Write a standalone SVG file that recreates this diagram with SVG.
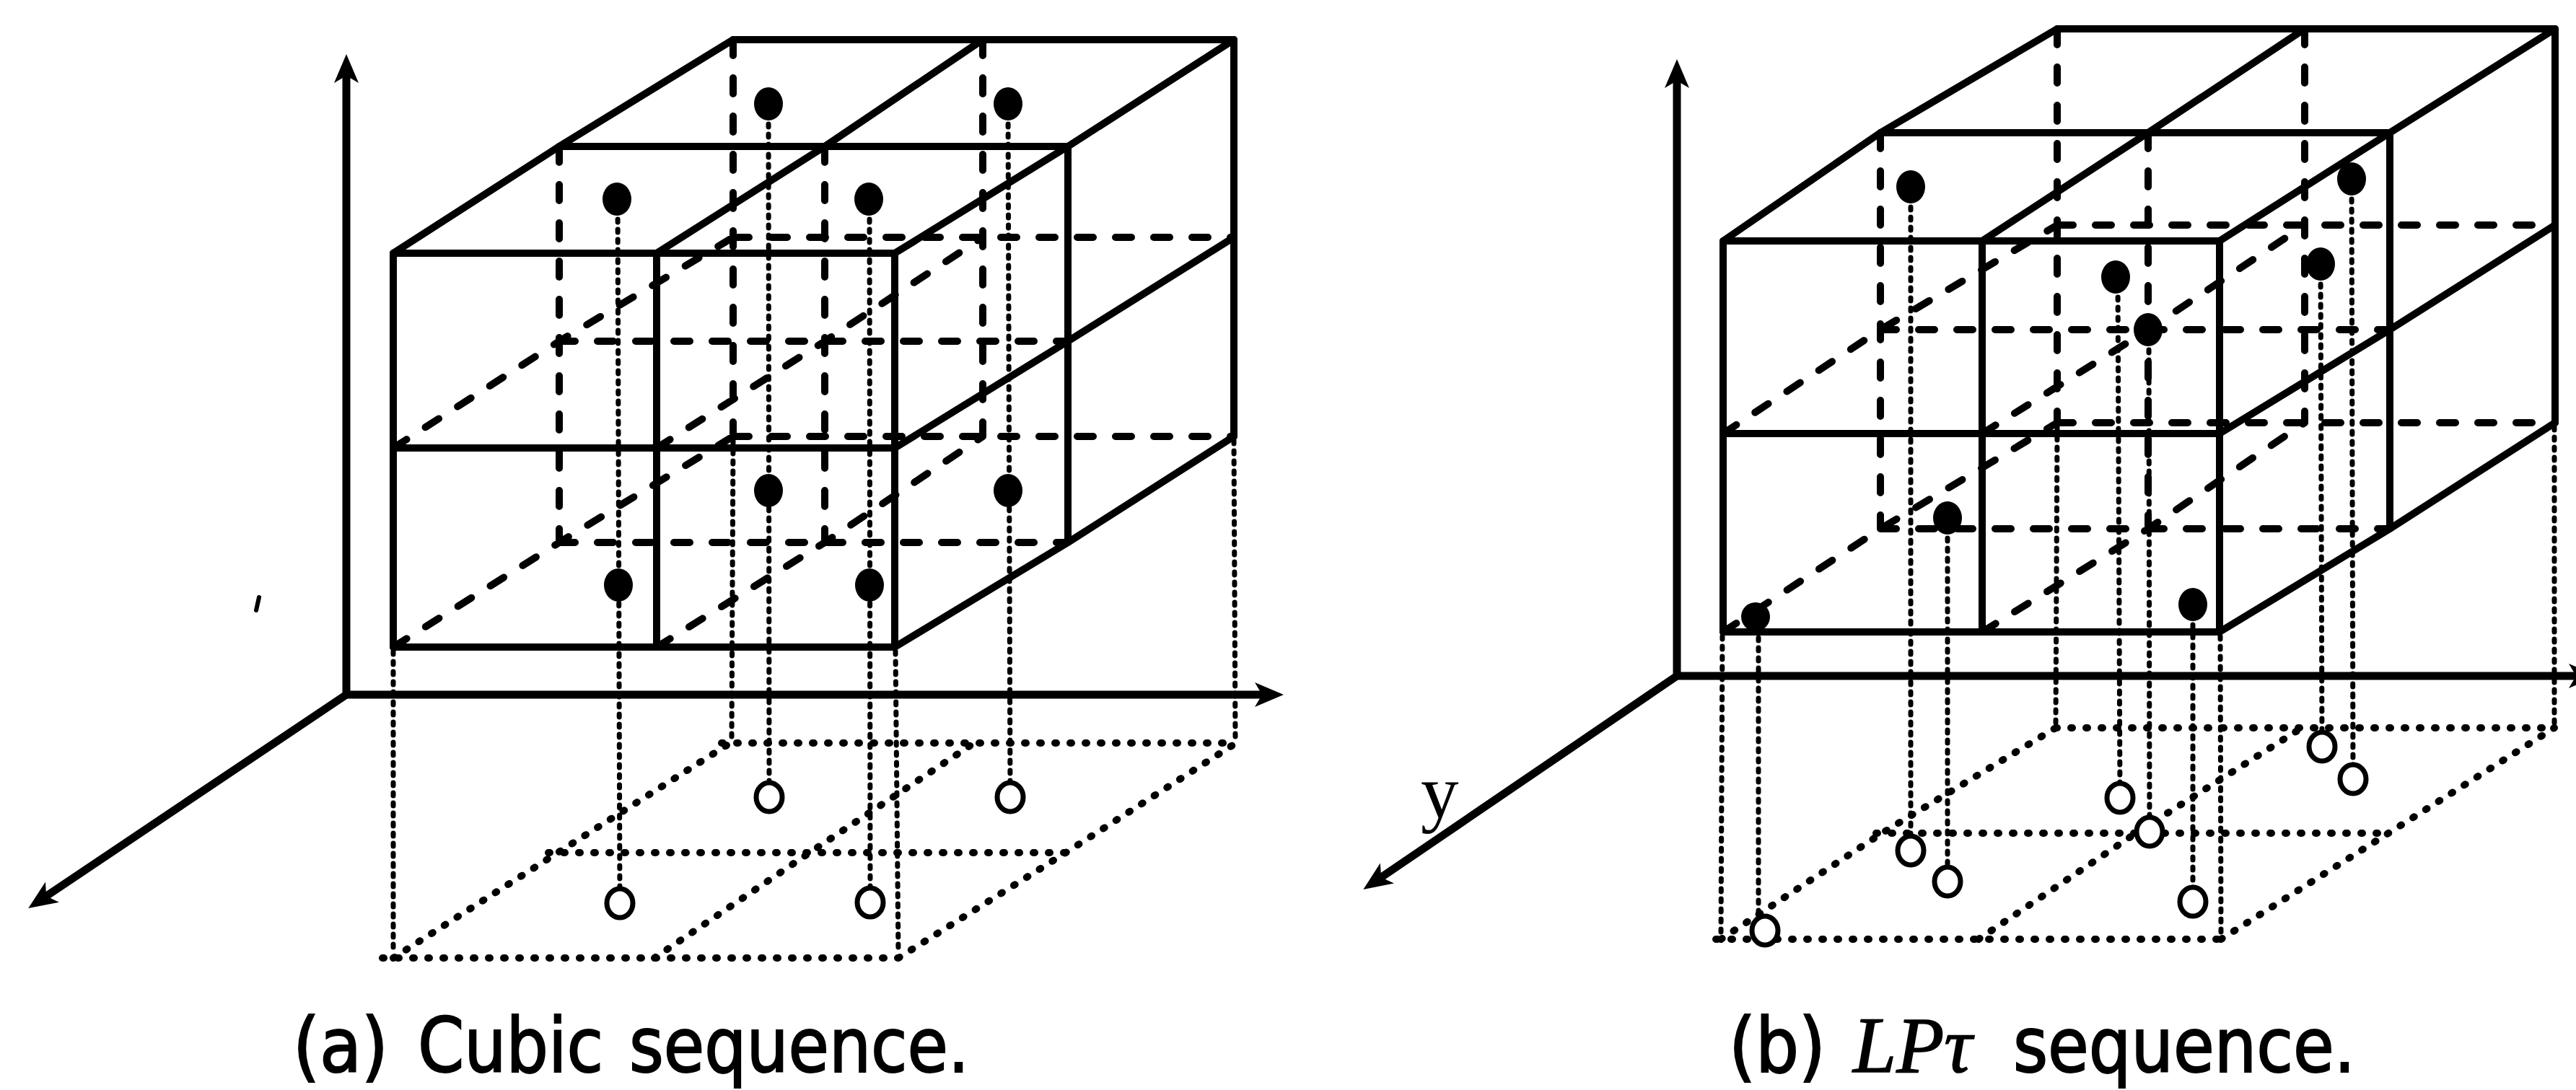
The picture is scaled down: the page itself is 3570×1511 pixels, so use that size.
<svg xmlns="http://www.w3.org/2000/svg" width="3570" height="1511" viewBox="0 0 3570 1511">
<style>
.edge{fill:none;stroke:#000;stroke-width:10;stroke-linecap:round;stroke-linejoin:round}
.hidden{fill:none;stroke:#000;stroke-width:10;stroke-linecap:round;stroke-dasharray:22 31}
.axis{fill:none;stroke:#000;stroke-width:11;marker-end:url(#arrow)}
.drop{fill:none;stroke:#000;stroke-width:7;stroke-linecap:round;stroke-dasharray:4 10}
.floor{fill:none;stroke:#000;stroke-width:10;stroke-linecap:round;stroke-dasharray:2 19}
.pt{fill:#000}
.proj{fill:#fff;stroke:#000;stroke-width:7}
.cap{font-family:"DejaVu Sans Condensed","DejaVu Sans",sans-serif;font-size:105px;fill:#000;stroke:#000;stroke-width:2}
.math{font-family:"Liberation Serif","Times New Roman",serif;font-style:italic;font-size:110px;fill:#000;stroke:#000;stroke-width:1.5}
.lbl{font-family:"Liberation Serif","Times New Roman",serif;font-size:105px;fill:#000}
</style>
<defs>
<marker id="arrow" viewBox="-20 -20 50 40" markerWidth="50" markerHeight="40" refX="0" refY="0" orient="auto" markerUnits="userSpaceOnUse">
<path d="M-15,-17 L25,0 L-15,17 L-5,0 Z" fill="#000"/>
</marker>
</defs>
<rect width="3570" height="1511" fill="#fff"/>

<g id="panel-a">
<g id="axes-a">
<path class="axis" d="M480,963 L480,100"/>
<path class="axis" d="M480,963 L1754,963"/>
<path class="axis" d="M480,963 L60,1245"/>
<path d="M359,828 L355,846" stroke="#000" stroke-width="6" stroke-linecap="round"/>
</g>
<g id="floor-a">
<path class="floor" d="M530,1328 L1245,1328 M760,1182 L1477,1182 M1000,1030 L1713,1030 M545,1328 L773,1182 L1012,1030 M907,1328 L1122,1182 L1350,1030 M1245,1328 L1477,1182 L1713,1030"/>
</g>
<g id="hidden-a">
<path class="hidden" d="M775,203 L775,752 M1143,203 L1143,752 M775,473 L1480,473 M775,752 L1480,752 M1016,55 L1016,605 M1362,55 L1362,605 M1016,329 L1710,329 M1016,605 L1710,605 M545,621 L775,473 L1016,329 M910,621 L1143,473 L1362,329 M545,897 L775,752 L1016,605 M910,897 L1143,752 L1362,605"/>
</g>
<g id="edges-a">
<path class="edge" d="M545,351 L1240,351 M545,621 L1240,621 M545,897 L1240,897 M545,351 L545,897 M910,351 L910,897 M1240,351 L1240,897"/>
<path class="edge" d="M775,203 L1480,203 M1016,55 L1710,55 M545,351 L775,203 L1016,55 M910,351 L1143,203 L1362,55 M1240,351 L1480,203 L1710,55"/>
<path class="edge" d="M1480,203 L1480,752 M1710,55 L1710,605 M1240,621 L1480,473 L1710,329 M1240,897 L1480,752 L1710,605"/>
</g>
<g id="connectors-a">
<path class="drop" d="M545,903 L545,1322 M1241,903 L1245,1322 M1016,611 L1014,1024 M1710,611 L1712,1024"/>
<path class="drop" d="M1065,144 L1066,1105 M1397,144 L1400,1105 M856,276 L859,1252 M1205,276 L1206,1251"/>
</g>
<g id="points-a">
<ellipse class="pt" cx="1065" cy="144" rx="20" ry="23"/>
<ellipse class="pt" cx="1397" cy="144" rx="20" ry="23"/>
<ellipse class="pt" cx="855" cy="276" rx="20" ry="23"/>
<ellipse class="pt" cx="1204" cy="276" rx="20" ry="23"/>
<ellipse class="pt" cx="1065" cy="680" rx="20" ry="23"/>
<ellipse class="pt" cx="1397" cy="680" rx="20" ry="23"/>
<ellipse class="pt" cx="857" cy="811" rx="20" ry="23"/>
<ellipse class="pt" cx="1205" cy="811" rx="20" ry="23"/>
<ellipse class="proj" cx="1066" cy="1105" rx="18" ry="20"/>
<ellipse class="proj" cx="1400" cy="1105" rx="18" ry="20"/>
<ellipse class="proj" cx="859" cy="1252" rx="18" ry="20"/>
<ellipse class="proj" cx="1206" cy="1251" rx="18" ry="20"/>
</g>
<g id="caption-a">
<text class="cap" x="406" y="1486" textLength="132" lengthAdjust="spacingAndGlyphs">(a)</text>
<text class="cap" x="579" y="1486" textLength="257" lengthAdjust="spacingAndGlyphs">Cubic</text>
<text class="cap" x="872" y="1486" textLength="471" lengthAdjust="spacingAndGlyphs">sequence.</text>
</g>
</g>

<g id="panel-b">
<g id="axes-b">
<path class="axis" d="M2324,937 L2324,107"/>
<path class="axis" d="M2324,937 L3575,937"/>
<path class="axis" d="M2324,937 L1910,1219"/>
<text class="lbl" x="1969" y="1133">y</text>
</g>
<g id="floor-b">
<path class="floor" d="M2378,1302 L3078,1302 M2600,1155 L3310,1155 M2849,1009 L3540,1009 M2385,1302 L2608,1155 L2849,1009 M2742,1302 L2960,1155 L3190,1009 M3078,1302 L3310,1155 L3540,1009"/>
</g>
<g id="hidden-b">
<path class="hidden" d="M2606,184 L2606,733 M2977,184 L2977,733 M2606,457 L3312,457 M2606,733 L3312,733 M2851,40 L2851,586 M3194,40 L3194,586 M2851,312 L3541,312 M2851,586 L3541,586 M2388,601 L2606,457 L2851,312 M2747,601 L2977,457 L3194,312 M2388,876 L2606,733 L2851,586 M2747,876 L2977,733 L3194,586"/>
</g>
<g id="edges-b">
<path class="edge" d="M2388,334 L3076,334 M2388,601 L3076,601 M2388,876 L3076,876 M2388,334 L2388,876 M2747,334 L2747,876 M3076,334 L3076,876"/>
<path class="edge" d="M2606,184 L3312,184 M2851,40 L3541,40 M2388,334 L2606,184 L2851,40 M2747,334 L2977,184 L3194,40 M3076,334 L3312,184 L3541,40"/>
<path class="edge" d="M3312,184 L3312,733 M3541,40 L3541,586 M3076,601 L3312,457 L3541,312 M3076,876 L3312,733 L3541,586"/>
</g>
<g id="connectors-b">
<path class="drop" d="M2387,882 L2385,1296 M3077,882 L3078,1296 M2851,592 L2849,1003 M3540,592 L3540,1003"/>
<path class="drop" d="M2648,259 L2648,1179 M3259,248 L3261,1080 M2935,384 L2938,1106 M3216,366 L3218,1035 M2978,457 L2979,1153 M2699,718 L2699,1222 M3039,838 L3039,1250 M2437,856 L2437,1276"/>
</g>
<g id="points-b">
<ellipse class="pt" cx="2648" cy="259" rx="20" ry="23"/>
<ellipse class="pt" cx="3259" cy="248" rx="20" ry="23"/>
<ellipse class="pt" cx="2932" cy="384" rx="20" ry="23"/>
<ellipse class="pt" cx="3216" cy="366" rx="20" ry="23"/>
<ellipse class="pt" cx="2977" cy="457" rx="20" ry="23"/>
<ellipse class="pt" cx="2699" cy="718" rx="20" ry="23"/>
<ellipse class="pt" cx="3039" cy="838" rx="20" ry="23"/>
<ellipse class="pt" cx="2433" cy="855" rx="20" ry="20"/>
<ellipse class="proj" cx="3218" cy="1035" rx="18" ry="20"/>
<ellipse class="proj" cx="3261" cy="1080" rx="18" ry="20"/>
<ellipse class="proj" cx="2938" cy="1106" rx="18" ry="20"/>
<ellipse class="proj" cx="2979" cy="1153" rx="18" ry="20"/>
<ellipse class="proj" cx="2648" cy="1179" rx="18" ry="20"/>
<ellipse class="proj" cx="2699" cy="1222" rx="18" ry="20"/>
<ellipse class="proj" cx="3039" cy="1250" rx="18" ry="20"/>
<ellipse class="proj" cx="2446" cy="1290" rx="18" ry="20"/>
</g>
<g id="caption-b">
<text class="cap" x="2396" y="1486" textLength="134" lengthAdjust="spacingAndGlyphs">(b)</text>
<text class="math" x="2568" y="1486" textLength="165" lengthAdjust="spacingAndGlyphs">LPτ</text>
<text class="cap" x="2790" y="1486" textLength="474" lengthAdjust="spacingAndGlyphs">sequence.</text>
</g>
</g>
</svg>
